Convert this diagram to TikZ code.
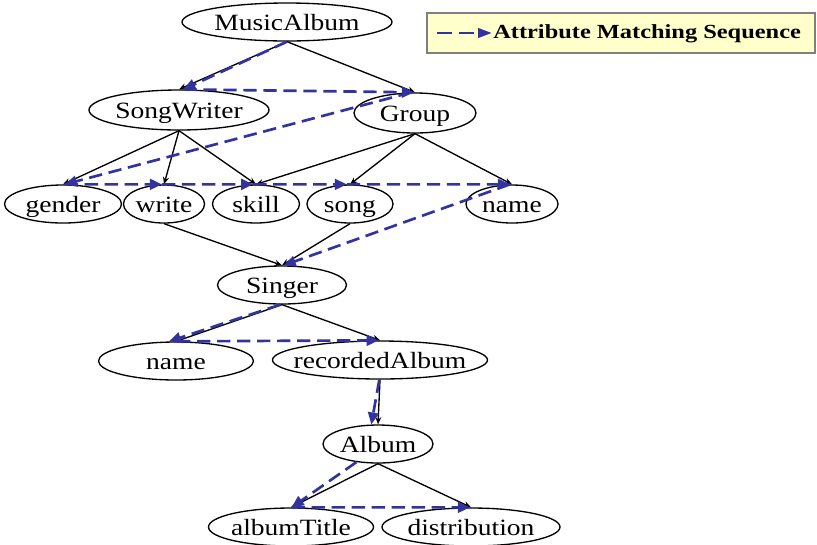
\documentclass[tikz,border=0pt]{standalone}
\usepackage{fontspec}
\usetikzlibrary{arrows.meta,shapes.geometric}
\newfontfamily\graphfont[FakeStretch=1.18]{Liberation Serif}
\newfontfamily\legendfont[FakeStretch=1.22]{Liberation Serif}
\definecolor{seqblue}{RGB}{51,51,160}
\definecolor{legendfill}{RGB}{255,255,204}
\definecolor{legendframe}{RGB}{128,128,128}

\begin{document}
\begin{tikzpicture}[x=0.75pt,y=-0.75pt,
  entity/.style={ellipse, draw, line width=1pt, inner xsep=-15pt, inner ysep=0pt,
    minimum height=28.5pt, text height=13pt, text depth=0pt,
    font=\graphfont\fontsize{17.5}{20}\selectfont},
  edge/.style={line width=1pt, -{Stealth[length=5.5pt,width=4.5pt]}},
  seq/.style={seqblue, line width=2pt, dash pattern=on 10pt off 5pt,
    -{Triangle[length=9pt,width=8pt]}},
  legendbox/.style={draw=legendframe, fill=legendfill, line width=1.1pt,
    minimum width=291pt, minimum height=30pt, inner sep=0pt},
]
\useasboundingbox (0,0) rectangle (817,544);

% schema nodes
\node[entity, minimum width=157.5pt] (MusicAlbum) at (287,22) {MusicAlbum};
\node[entity, minimum width=135pt, minimum height=30pt] (SongWriter) at (179,110) {SongWriter};
\node[entity, minimum width=91.5pt, minimum height=30pt] (Group) at (415,113) {Group};
\node[entity, minimum width=87.75pt] (gender) at (63,204) {gender};
\node[entity, minimum width=60.75pt] (write) at (164,204) {write};
\node[entity, minimum width=65.25pt] (skill) at (256,204) {skill};
\node[entity, minimum width=64.5pt] (song) at (350,204) {song};
\node[entity, minimum width=69pt] (gname) at (512,204) {name};
\node[entity, minimum width=96.75pt] (Singer) at (282,285) {Singer};
\node[entity, minimum width=116.25pt] (sname) at (176,361) {name};
\node[entity, minimum width=161.25pt] (recordedAlbum) at (380,360) {recordedAlbum};
\node[entity, minimum width=82.5pt] (Album) at (378,444) {Album};
\node[entity, minimum width=123.75pt] (albumTitle) at (291,527) {albumTitle};
\node[entity, minimum width=133.5pt] (distribution) at (471,527) {distribution};

% structural edges
\draw[edge] (MusicAlbum.south) -- (SongWriter.north);
\draw[edge] (MusicAlbum.south) -- (Group.north);
\draw[edge] (SongWriter.south) -- (gender.north);
\draw[edge] (SongWriter.south) -- (write.north);
\draw[edge] (SongWriter.south) -- (skill.north);
\draw[edge] (Group.south) -- (skill.north);
\draw[edge] (Group.south) -- (song.north);
\draw[edge] (Group.south) -- (gname.north);
\draw[edge] (write.south) -- (Singer.north);
\draw[edge] (song.south) -- (Singer.north);
\draw[edge] (Singer.south) -- (sname.north);
\draw[edge] (Singer.south) -- (recordedAlbum.north);
\draw[edge] (recordedAlbum.south) -- (Album.north);
\draw[edge] (Album.south) -- (albumTitle.north);
\draw[edge] (Album.south) -- (distribution.north);

% attribute matching sequence
\draw[seq] (MusicAlbum.south) -- (SongWriter.78);
\draw[seq] (SongWriter.78) -- (Group.93);
\draw[seq] (Group.100) -- (gender.85);
\draw[seq] (gender.85) -- (write.96);
\draw[seq] (write.96) -- (skill.98);
\draw[seq] (skill.98) -- (song.99);
\draw[seq] (song.99) -- (gname.96);
\draw[seq] (gname.96) -- (Singer.85);
\draw[seq] (Singer.265) -- (sname.110);
\draw[seq] (sname.87) -- (recordedAlbum.94);
\draw[seq] (recordedAlbum.268) -- (Album.109);
\draw[seq] (Album.220) -- (albumTitle.88);
\draw[seq] (albumTitle.88) -- (distribution.93);

% legend
\node[legendbox] (legend) at (621,33) {};
\coordinate (keystart) at (437,33);
\coordinate (keyend) at (492,33);
\draw[seq, line width=2.2pt, dash pattern=on 11.25pt off 5.25pt,
  -{Triangle[length=10.5pt,width=7pt]}] (keystart) -- (keyend);
\node[anchor=west, inner sep=0pt, font=\legendfont\bfseries\fontsize{15}{17}\selectfont]
  (legendtext) at (493,34) {Attribute Matching Sequence};
\end{tikzpicture}
\end{document}
